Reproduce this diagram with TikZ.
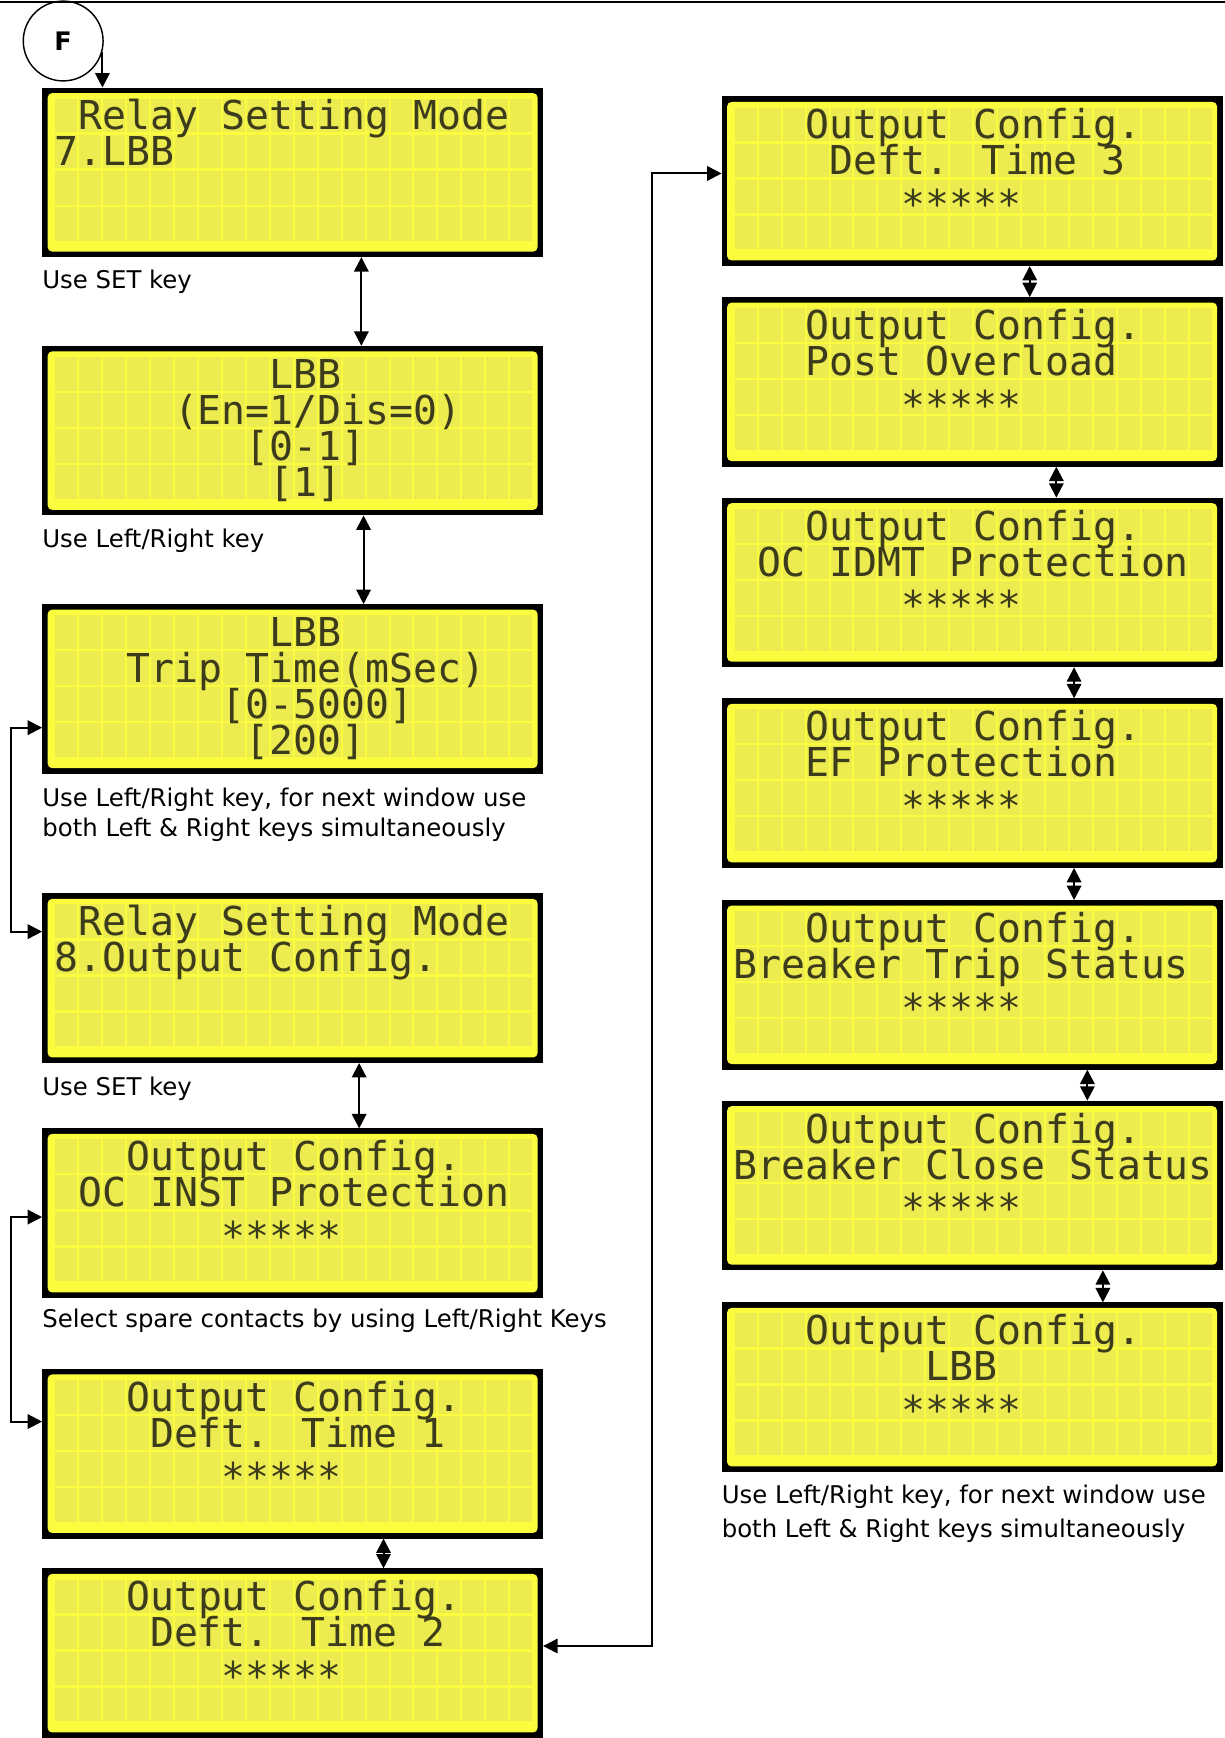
\documentclass[tikz,border=0pt]{standalone}
\usepackage{fontspec}
\setmainfont{DejaVu Sans}
\newfontfamily\lcdfam{DejaVu Sans Mono}
\usetikzlibrary{arrows.meta,calc}
\definecolor{lcdyellow}{RGB}{252,252,62}
\definecolor{lcdcell}{RGB}{236,236,80}
\definecolor{lcdink}{RGB}{60,60,28}
\tikzset{
 lcdframe/.style={fill=black, inner sep=0pt, outer sep=0pt, minimum width=452pt, minimum height=153pt, anchor=north west},
 lcdtext/.style={anchor=base west, inner sep=0pt, outer sep=0pt, text=lcdink, font=\lcdfam\fontsize{35.9}{36}\selectfont},
 lbl/.style={anchor=base west, inner sep=0pt, font=\fontsize{22}{27}\selectfont},
 conn/.style={line width=1.8pt, {Triangle[length=13pt,width=13pt]}-{Triangle[length=13pt,width=13pt]}},
 conn1/.style={line width=1.8pt, -{Triangle[length=13pt,width=13pt]}},
}
\newcommand\lcdbox[3]{%
  \node[lcdframe] (#1) at (#2,#3) {};
  \fill[lcdyellow, rounded corners=4pt] ($(#1.north west)+(5,5)$) rectangle ($(#1.south east)+(-5,-5)$);
  \foreach \c in {0,...,19}{\foreach \r in {0,...,3}{
     \fill[lcdcell] ($(#1.north west)+({11+\c*21.6+0.9},{9+\r*32.5+1})$) rectangle ++(19.8,30.5);
  }}%
}
\newcommand\lcdline[4]{\node[lcdtext] (#1r#2) at ($(#1.north west)+({11+#3*21.6},{9+#2*32.5+16.25+13})$) {#4};}
\newcommand\stars{\raisebox{-7pt}{*****}}
\begin{document}
\begin{tikzpicture}[x=1pt,y=-1pt]
\useasboundingbox (0,0) rectangle (1105,1568);
\draw[line width=1.5pt] (0,2) -- (1105,2);
\node[draw, circle, minimum size=72pt, line width=1.3pt, inner sep=0pt, font=\bfseries\fontsize{23}{23}\selectfont] (F) at (57,37) {F};

% left column
\lcdbox{B1}{38}{79}
\lcdline{B1}{0}{1}{Relay Setting Mode}
\lcdline{B1}{1}{0}{7.LBB}
\lcdbox{B2}{38}{312}
\lcdline{B2}{0}{9}{LBB}
\lcdline{B2}{1}{5}{(En=1/Dis=0)}
\lcdline{B2}{2}{8}{[0-1]}
\lcdline{B2}{3}{9}{[1]}
\lcdbox{B3}{38}{545}
\lcdline{B3}{0}{9}{LBB}
\lcdline{B3}{1}{3}{Trip Time(mSec)}
\lcdline{B3}{2}{7}{[0-5000]}
\lcdline{B3}{3}{8}{[200]}
\lcdbox{B4}{38}{806}
\lcdline{B4}{0}{1}{Relay Setting Mode}
\lcdline{B4}{1}{0}{8.Output Config.}
\lcdbox{B5}{38}{1018}
\lcdline{B5}{0}{3}{Output Config.}
\lcdline{B5}{1}{1}{OC INST Protection}
\lcdline{B5}{2}{7}{\stars}
\lcdbox{B6}{38}{1235}
\lcdline{B6}{0}{3}{Output Config.}
\lcdline{B6}{1}{4}{Deft. Time 1}
\lcdline{B6}{2}{7}{\stars}
\lcdbox{B7}{38}{1415}
\lcdline{B7}{0}{3}{Output Config.}
\lcdline{B7}{1}{4}{Deft. Time 2}
\lcdline{B7}{2}{7}{\stars}

% right column
\lcdbox{R1}{651}{87}
\lcdline{R1}{0}{3}{Output Config.}
\lcdline{R1}{1}{4}{Deft. Time 3}
\lcdline{R1}{2}{7}{\stars}
\lcdbox{R2}{651}{268}
\lcdline{R2}{0}{3}{Output Config.}
\lcdline{R2}{1}{3}{Post Overload}
\lcdline{R2}{2}{7}{\stars}
\lcdbox{R3}{651}{449}
\lcdline{R3}{0}{3}{Output Config.}
\lcdline{R3}{1}{1}{OC IDMT Protection}
\lcdline{R3}{2}{7}{\stars}
\lcdbox{R4}{651}{630}
\lcdline{R4}{0}{3}{Output Config.}
\lcdline{R4}{1}{3}{EF Protection}
\lcdline{R4}{2}{7}{\stars}
\lcdbox{R5}{651}{812}
\lcdline{R5}{0}{3}{Output Config.}
\lcdline{R5}{1}{0}{Breaker Trip Status}
\lcdline{R5}{2}{7}{\stars}
\lcdbox{R6}{651}{993}
\lcdline{R6}{0}{3}{Output Config.}
\lcdline{R6}{1}{0}{Breaker Close Status}
\lcdline{R6}{2}{7}{\stars}
\lcdbox{R7}{651}{1175}
\lcdline{R7}{0}{3}{Output Config.}
\lcdline{R7}{1}{8}{LBB}
\lcdline{R7}{2}{7}{\stars}

% labels
\node[lbl] (L1) at ($(B1.south west)+(0,28)$) {Use SET key};
\node[lbl] (L2) at ($(B2.south west)+(0,29)$) {Use Left/Right key};
\node[lbl] (L3a) at ($(B3.south west)+(0,30)$) {Use Left/Right key, for next window use};
\node[lbl] (L3b) at ($(B3.south west)+(0,57)$) {both Left \& Right keys simultaneously};
\node[lbl] (L4) at ($(B4.south west)+(0,29)$) {Use SET key};
\node[lbl] (L5) at ($(B5.south west)+(0,27)$) {Select spare contacts by using Left/Right Keys};
\node[lbl] (L6a) at ($(R7.south west)+(0,28)$) {Use Left/Right key, for next window use};
\node[lbl] (L6b) at ($(R7.south west)+(0,59)$) {both Left \& Right keys simultaneously};

% connectors
\draw[conn1] (F.-15) -- (F.-15 |- B1.north);
\draw[conn] ([xshift=62pt]B1.south) -- ([xshift=62pt]B2.north);
\draw[conn] ([xshift=64pt]B2.south) -- ([xshift=64pt]B3.north);
\draw[conn] ([yshift=-35pt]B3.west) -- ++(-28,0) |- ([yshift=42pt]B4.west);
\draw[conn] ([xshift=60pt]B4.south) -- ([xshift=60pt]B5.north);
\draw[conn] ([yshift=-3.5pt]B5.west) -- ++(-28,0) |- ([yshift=29pt]B6.west);
\draw[conn] ([xshift=82pt]B6.south) -- ([xshift=82pt]B7.north);
\draw[conn] ([yshift=6.5pt]B7.east) -- ++(98,0) |- ([yshift=7pt]R1.west);
\draw[conn] ([xshift=52pt]R1.south) -- ([xshift=52pt]R2.north);
\draw[conn] ([xshift=76pt]R2.south) -- ([xshift=76pt]R3.north);
\draw[conn] ([xshift=92pt]R3.south) -- ([xshift=92pt]R4.north);
\draw[conn] ([xshift=92pt]R4.south) -- ([xshift=92pt]R5.north);
\draw[conn] ([xshift=104pt]R5.south) -- ([xshift=104pt]R6.north);
\draw[conn] ([xshift=118pt]R6.south) -- ([xshift=118pt]R7.north);
\end{tikzpicture}
\end{document}
